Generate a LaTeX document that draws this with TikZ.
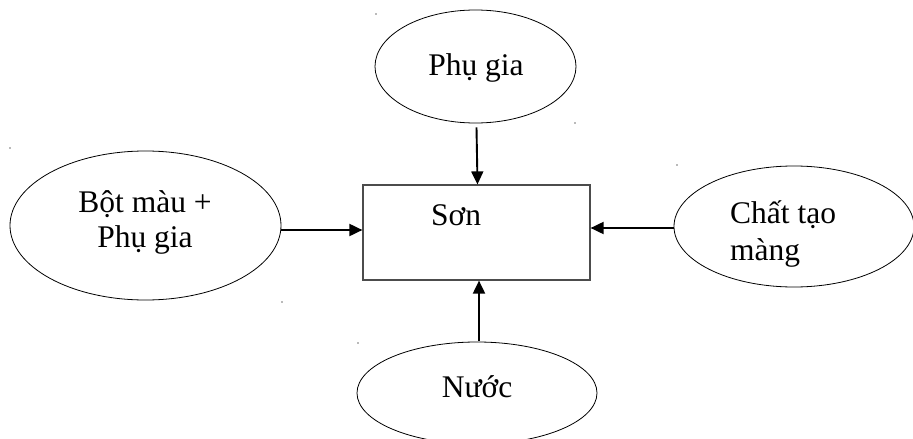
\documentclass[tikz,border=0pt]{standalone}
\usepackage{fontspec}
\setmainfont{Liberation Serif}
\usetikzlibrary{shapes.geometric,arrows.meta}
\begin{document}
\begin{tikzpicture}[x=1pt,y=-1pt,
  blob/.style={draw=black,line width=0.8pt,ellipse,inner sep=0pt,fill=white},
  mixbox/.style={draw=black!70,line width=1.2pt,rectangle,inner sep=0pt},
  txt/.style={anchor=base,inner sep=0pt,font=\fontsize{31.5pt}{35pt}\selectfont},
  feed/.style={line width=1.9pt,-{Triangle[length=13pt,width=12pt]}},
  speck/.style={fill=black!55}]
\useasboundingbox (0,0) rectangle (913,439);

% sources around the product
\node[blob,minimum width=201pt,minimum height=113pt] (add) at (475.5,66.5) {};
\node[blob,minimum width=271pt,minimum height=149pt] (pig) at (145.5,225.5) {};
\node[blob,minimum width=240pt,minimum height=121pt] (bind) at (794,226.5) {};
\node[blob,minimum width=240pt,minimum height=102pt] (water) at (477,393) {};

% product box
\node[mixbox,minimum width=227pt,minimum height=95pt] (paint) at (476.5,232.5) {};

% labels
\node[txt] (addT) at (476,75) {Phụ gia};
\node[txt] (pigT1) at (145,212) {Bột màu +};
\node[txt] (pigT2) at (145,247) {Phụ gia};
\node[txt,anchor=base west] (bindT1) at (730,223) {Chất tạo};
\node[txt,anchor=base west] (bindT2) at (730,260) {màng};
\node[txt] (waterT) at (477,397) {Nước};
\node[txt,anchor=base west] (paintT) at (431,225) {Sơn};

% feeds into the box (canvas shifts: positive yshift moves up)
\draw[feed] ([xshift=1pt,yshift=-4pt]add.south) -- ([xshift=1pt]paint.north);
\draw[feed] ([yshift=-4.5pt]pig.east) -- ([yshift=2.5pt]paint.west);
\draw[feed] ([yshift=-1.5pt]bind.west) -- ([yshift=4.5pt]paint.east);
\draw[feed] ([xshift=2pt,yshift=1pt]water.north) -- ([xshift=2.5pt]paint.south);

% stray corner marks
\foreach \p in {(10,148),(282,302),(376,14),(575,123),(677,165),(358,343)}
  \fill[speck] \p circle (0.8pt);
\end{tikzpicture}
\end{document}
